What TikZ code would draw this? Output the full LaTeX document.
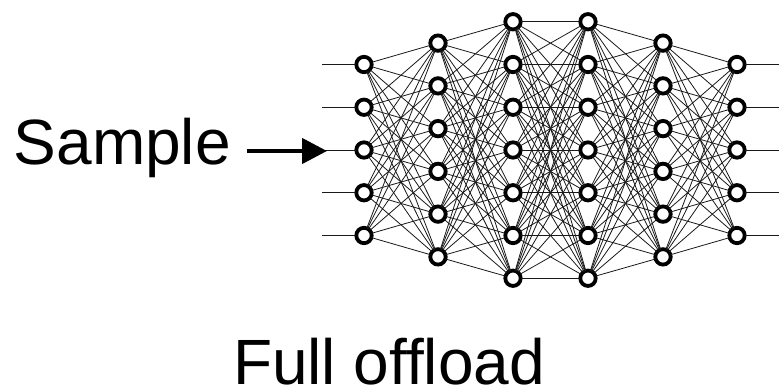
\documentclass[tikz,border=0pt]{standalone}
\usepackage{fontspec}
\setmainfont{Liberation Sans}
\usetikzlibrary{arrows.meta}
\begin{document}
\begin{tikzpicture}[x=1pt,y=-1pt,
  neuron/.style={circle,draw=black,fill=white,line width=3.8pt,minimum size=15.4pt,inner sep=0pt,outer sep=0pt},
  wire/.style={draw=black!90,line width=0.8pt},
  bigtext/.style={inner sep=0pt,font=\fontsize{64}{70}\selectfont},
  inarrow/.style={line width=4.5pt,-{Triangle[length=25pt,width=25pt]}}]
\useasboundingbox (0,0) rectangle (779,390);
\def\sp{42.75}
% layer definitions: index / x / count
\foreach \l/\x/\n in {1/364/5,2/438/6,3/513/7,4/588/7,5/663/6,6/737/5}{
  \foreach \j in {1,...,\n}{
    \pgfmathsetmacro{\yy}{150+(\j-(\n+1)/2)*\sp}
    \node[neuron] (n-\l-\j) at (\x,\yy) {};
  }
}
% input and output coordinates
\foreach \j in {1,...,5}{
  \pgfmathsetmacro{\yy}{150+(\j-3)*\sp}
  \coordinate (in-\j) at (322,\yy);
  \coordinate (out-\j) at (779,\yy);
}
\foreach \j in {1,...,5}{
  \draw[wire] (in-\j) -- (n-1-\j);
  \draw[wire] (n-6-\j) -- (out-\j);
}
\foreach \a/\na/\b/\nb in {1/5/2/6,2/6/3/7,3/7/4/7,4/7/5/6,5/6/6/5}{
  \foreach \i in {1,...,\na}{
    \foreach \k in {1,...,\nb}{
      \draw[wire] (n-\a-\i) -- (n-\b-\k);
    }
  }
}
\node[bigtext,anchor=base east] (sample) at (231,165) {Sample};
\coordinate (atip) at (327,151);
\draw[inarrow,shorten <=16pt] (sample.east |- atip) -- (atip);
\node[bigtext,text depth=0pt,anchor=base] (title) at (389,384) {Full offload};
\end{tikzpicture}
\end{document}
